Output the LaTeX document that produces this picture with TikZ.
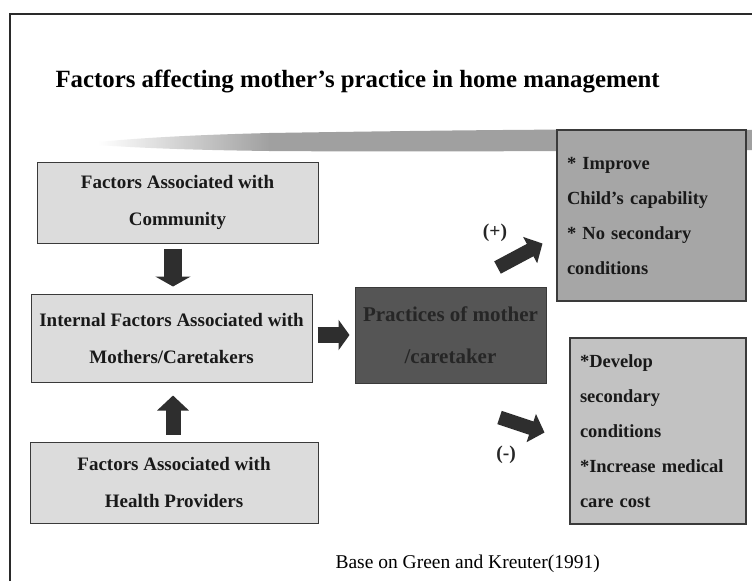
\documentclass[tikz,border=0pt]{standalone}
\usepackage{fontspec}
\setmainfont{Liberation Serif}
\usetikzlibrary{arrows.meta,calc}
\definecolor{framecol}{HTML}{2A2A2A}
\definecolor{lightbox}{HTML}{DCDCDC}
\definecolor{midbox}{HTML}{A6A6A6}
\definecolor{softbox}{HTML}{C2C2C2}
\definecolor{darkbox}{HTML}{555555}
\definecolor{darktext}{HTML}{262626}
\definecolor{boxline}{HTML}{3A3A3A}
\definecolor{arrowcol}{HTML}{2E2E2E}
\definecolor{brush}{HTML}{A0A0A0}
\begin{document}
\begin{tikzpicture}[x=1pt,y=-1pt,
  lbox/.style={draw=boxline, line width=1pt, fill=lightbox, align=center,
    text=black!90, font=\fontsize{19}{37}\selectfont\bfseries, inner sep=0pt},
  rbox/.style={draw=boxline, line width=1.2pt, align=left, inner xsep=10pt, inner ysep=0pt,
    text=black!90, font=\fontsize{18.5}{35}\selectfont\bfseries},
  pbox/.style={draw=boxline, line width=1pt, fill=darkbox, align=center, inner sep=0pt,
    text=darktext, font=\fontsize{21}{42}\selectfont\bfseries},
  vbig/.style={arrowcol, line width=18pt, -{Triangle[length=10pt,width=35pt]}},
  vup/.style={arrowcol, line width=15pt, -{Triangle[length=15pt,width=31pt]}},
  hbig/.style={arrowcol, line width=16pt, -{Triangle[length=11pt,width=30pt]}},
  dbig/.style={arrowcol, line width=14pt, -{Triangle[length=14pt,width=29pt]}},
  sign/.style={font=\fontsize{19.5}{22}\selectfont\bfseries, text=black!85}
]
\useasboundingbox (0,0) rectangle (752,581);
\fill[white] (0,0) rectangle (752,581);

% frame
\draw[framecol, line width=1.8pt] (10,581) -- (10,14) -- (752,14);

% brush stroke
\shade[left color=white, right color=brush]
  (98,142) .. controls (140,138) and (190,135) .. (270,133)
  -- (270,151) .. controls (190,150) and (140,148) .. (98,145) -- cycle;
\fill[brush] (269,133) .. controls (400,131) and (600,128) .. (752,130)
  -- (752,150) .. controls (600,151) and (400,152) .. (269,151) -- cycle;

% title
\node[anchor=base west] (title) at (52,87)
  {\fontsize{24.8}{28}\selectfont\bfseries Factors affecting mother’s practice in home management};

% left column
\node[lbox, minimum width=281pt, minimum height=81pt] (comm) at (177.5,202.5)
  {Factors Associated with\\Community};
\node[lbox, minimum width=281pt, minimum height=88pt] (int) at (171.5,338)
  {Internal Factors Associated with\\Mothers/Caretakers};
\node[lbox, minimum width=288pt, minimum height=81pt] (hp) at (174,482.5)
  {Factors Associated with\\Health Providers};

% practices
\node[pbox, minimum width=191pt, minimum height=96pt] (prac) at (450.5,335)
  {Practices of mother\\/caretaker};

% outcome boxes
\node[rbox, fill=midbox, text width=169pt, minimum height=171pt] (pos) at (651.5,215.5)
  {{*} Improve\\Child’s capability\\{*} No secondary\\conditions};
\node[rbox, fill=softbox, text width=156pt, minimum height=186pt] (neg) at (658,431)
  {{*}Develop\\secondary\\conditions\\{*}Increase medical\\care cost};

% arrows
\draw[vbig] ($(comm.south)+(-4.5,5)$) -- ($(int.north)+(1.5,-7)$);
\draw[vup] ($(hp.north)+(-1,-7)$) -- ($(int.south)+(1.5,13)$);
\draw[hbig] ($(int.east)+(5,-3)$) -- ($(prac.west)+(-5,0)$);
\coordinate (uptail) at ($(prac.north east)+(-49,-19)$);
\coordinate (uptip) at ($(prac.north east)+(-4,-43)$);
\coordinate (dntail) at ($(prac.south east)+(-47,34)$);
\coordinate (dntip) at ($(prac.south east)+(-2,49)$);
\draw[dbig] (uptail) -- (uptip);
\draw[dbig] (dntail) -- (dntip);

% signs
\node[sign] (plus) at (495,233) {(+)};
\node[sign] (minus) at (506,455) {(-)};

% footer
\node[anchor=base west] (src) at (332,568)
  {\fontsize{19.5}{22}\selectfont Base on Green and Kreuter(1991)};
\end{tikzpicture}
\end{document}
